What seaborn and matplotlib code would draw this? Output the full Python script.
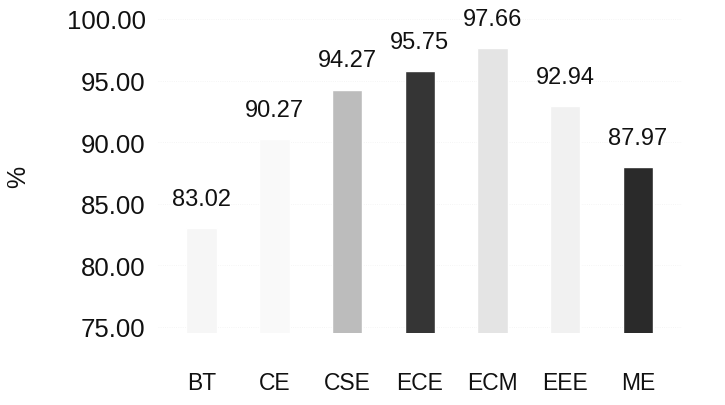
import matplotlib
matplotlib.use("Agg")
import matplotlib.pyplot as plt
import seaborn as sns
import pandas as pd

categories = ["BT", "CE", "CSE", "ECE", "ECM", "EEE", "ME"]
values = [83.02, 90.27, 94.27, 95.75, 97.66, 92.94, 87.97]
bar_colors = ["#f6f6f6", "#f9f9f9", "#bcbcbc", "#353535", "#e4e4e4", "#f1f1f1", "#2a2a2a"]
y_ticks = [75, 80, 85, 90, 95, 100]

sns.set_theme(style="white")
plt.rcParams["font.family"] = ["Liberation Sans", "DejaVu Sans"]

df = pd.DataFrame({"dept": categories, "pct": values})

fig = plt.figure(figsize=(7.25, 4.06), dpi=100)
ax = fig.add_axes([0.218, 0.177, 0.722, 0.774])

sns.barplot(data=df, x="dept", y="pct", hue="dept", palette=bar_colors,
            legend=False, width=0.42, ax=ax, saturation=1)

for c in ax.containers:
    ax.bar_label(c, fmt="%.2f", padding=13, fontsize=17, color="#111111")

ax.set_ylim(74.5, 100)
ax.set_xlim(-0.6, 6.6)
ax.set_yticks(y_ticks)
ax.set_yticklabels([f"{t:.2f}" for t in y_ticks], fontsize=18.5, color="#111111")
ax.tick_params(axis="y", length=0, pad=9)
ax.tick_params(axis="x", length=0, pad=27, labelsize=16.5, labelcolor="#111111")
ax.set_xlabel("")
ax.set_ylabel("%", fontsize=18, color="#111111", labelpad=26)
ax.yaxis.grid(True, color="#f2f2f2", linewidth=0.6, linestyle=":")
ax.set_axisbelow(True)
for s in ax.spines.values():
    s.set_visible(False)

fig.savefig("out.png", dpi=100)
